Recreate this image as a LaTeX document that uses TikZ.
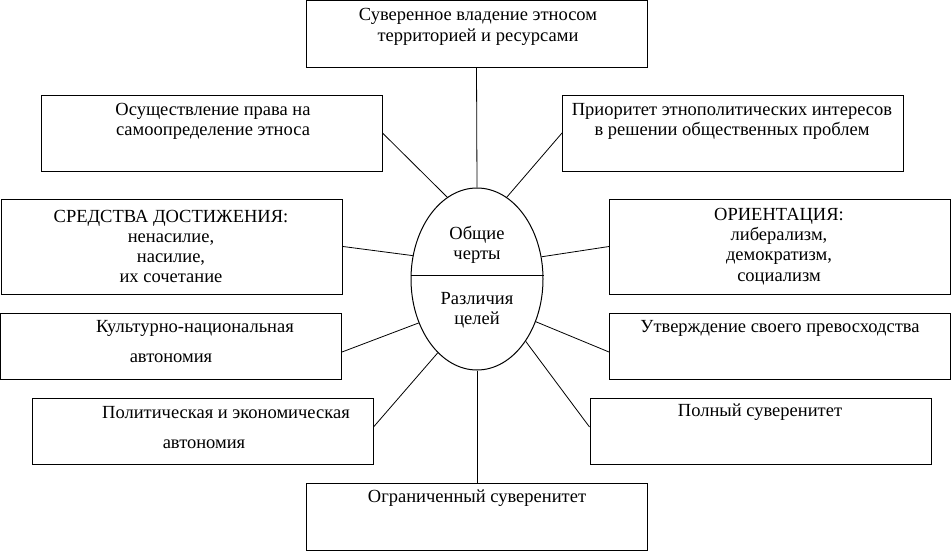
\documentclass[tikz,border=0pt]{standalone}
\usepackage{fontspec}
\setmainfont{Liberation Serif}
\usetikzlibrary{shapes}
\usetikzlibrary{calc}

\begin{document}
\begin{tikzpicture}[x=1pt,y=-1pt]
          \useasboundingbox (0,0) rectangle (952,551);
          \begin{scope}[every node/.style={rectangle,draw=black,line width=1pt,inner sep=0pt,minimum width=341pt,minimum height=66pt}]
            \node (suv) at (476.5,34) {};
            \node[minimum height=76pt] (osu) at (211.5,133) {};
            \node[minimum height=76pt] (prio) at (733,133) {};
            \node[minimum height=95pt] (sred) at (172,246.5) {};
            \node[minimum height=95pt] (orient) at (780,246.5) {};
            \node (kult) at (171,346) {};
            \node (utv) at (780,346) {};
            \node (polit) at (202.5,431) {};
            \node (poln) at (760.5,431) {};
            \node[minimum height=67pt] (ogr) at (477,516.5) {};
          \end{scope}
          \node[ellipse,draw=black,line width=1pt,inner sep=0pt,minimum width=132pt,minimum height=182pt] (ell) at (477,279) {};
          \draw[line width=1pt] ([yshift=4pt]ell.west) -- ([yshift=4pt]ell.east);
          \begin{scope}[every node/.style={font=\fontsize{18.5}{20.3}\selectfont,align=center,inner sep=0pt}]
            \node (suvT) at (478,27) {Суверенное владение этносом\\территорией и ресурсами};
            \node (osuT) at (213,121.5) {Осуществление права на\\самоопределение этноса};
            \node (prioT) at (732,121.5) {Приоритет этнополитических интересов\\в решении общественных проблем};
            \node (sredT) at (171,246.5) {СРЕДСТВА ДОСТИЖЕНИЯ:\\ненасилие,\\насилие,\\их сочетание};
            \node (orientT) at (779,246.5) {ОРИЕНТАЦИЯ:\\либерализм,\\демократизм,\\социализм};
            \node (kultA) at (195,328) {Культурно-национальная};
            \node (kultB) at (171,358) {автономия};
            \node (utvT) at (780,328) {Утверждение своего превосходства};
            \node (politA) at (226,413) {Политическая и экономическая};
            \node (politB) at (204,444) {автономия};
            \node (polnT) at (760,412) {Полный суверенитет};
            \node (ogrT) at (477,498) {Ограниченный суверенитет};
            \node (obsh) at (477,245) {Общие\\черты};
            \node (razl) at (477,310) {Различия\\целей};
          \end{scope}
          \begin{scope}[every edge/.style={draw=black,line width=0.8pt}]
            \path (suv.south) edge (ell.90);
            \path (osu.east) edge (ell.110);
            \path (prio.west) edge (ell.70);
            \path (sred.east) edge (ell.160.5);
            \path (orient.west) edge (ell.19.5);
            \path ([yshift=-6pt]kult.east) edge (ell.217);
            \path ([yshift=-6pt]utv.west) edge (ell.324);
            \path ([yshift=4pt]polit.east) edge (ell.242.5);
            \path ([yshift=4pt]poln.west) edge (ell.308);
            \path (ell.270) edge (ogr.north);
          \end{scope}
        \end{tikzpicture}
\end{document}
